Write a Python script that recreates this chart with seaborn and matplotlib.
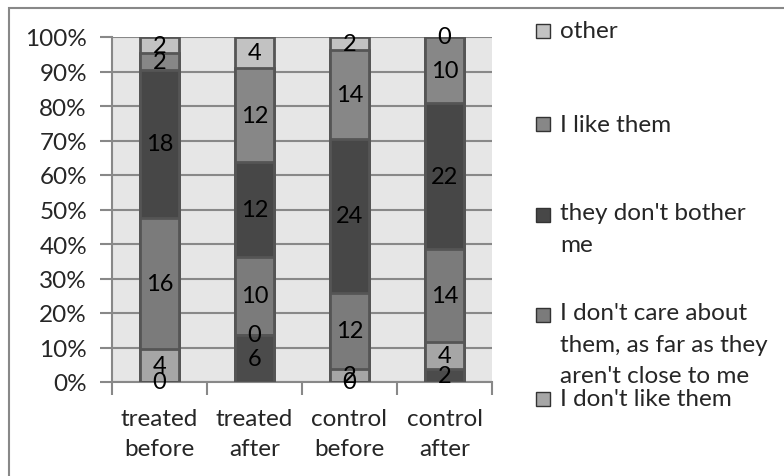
import matplotlib
matplotlib.use("Agg")
import matplotlib.pyplot as plt
import seaborn as sns
import numpy as np
import pandas as pd
from matplotlib.patches import Rectangle

# ---- data (counts) ----
categories = ["treated\nbefore", "treated\nafter", "control\nbefore", "control\nafter"]
series_order = ["unlisted", "I don't like them", "I don't care", "they don't bother me", "I like them", "other"]
unlisted = [0, 6, 0, 2]          # bottom series, its legend entry is cut off
dislike = [4, 0, 2, 4]
dont_care = [16, 10, 12, 14]
dont_bother = [18, 12, 24, 22]
like = [2, 12, 14, 10]
other = [2, 4, 2, 0]

legend_labels = {
    "other": ["other"],
    "I like them": ["I like them"],
    "they don't bother me": ["they don't bother", "me"],
    "I don't care": ["I don't care about", "them, as far as they", "aren't close to me"],
    "I don't like them": ["I don't like them"],
}

colors = {
    "unlisted": "#4b4b4b",
    "I don't like them": "#a6a6a6",
    "I don't care": "#7b7b7b",
    "they don't bother me": "#474747",
    "I like them": "#878787",
    "other": "#c2c2c2",
}

df = pd.DataFrame({
    "unlisted": unlisted,
    "I don't like them": dislike,
    "I don't care": dont_care,
    "they don't bother me": dont_bother,
    "I like them": like,
    "other": other,
}, index=categories)

pct = df.div(df.sum(axis=1), axis=0) * 100
cum = pct.cumsum(axis=1)

sns.set_theme(style="white")
plt.rcParams['font.family'] = ['Lato', 'DejaVu Sans']

W, H = 784, 477
fig = plt.figure(figsize=(W / 100, H / 100), dpi=100)
ax = fig.add_axes([112 / W, (H - 383) / H, 380 / W, 345 / H])
ax.set_facecolor('#e6e6e6')
ax.set_axisbelow(True)

edge = '#555555'
for name in reversed(series_order):
    sns.barplot(x=list(categories), y=cum[name].values, color=colors[name],
                saturation=1, width=0.41, edgecolor=edge, linewidth=2,
                ax=ax, zorder=3)

# data labels
for i, cat in enumerate(categories):
    for name in series_order:
        v = df.loc[cat, name]
        top = cum.loc[cat, name]
        y = top - pct.loc[cat, name] / 2
        ax.text(i, y, f"{v}", ha='center', va='center', fontsize=17,
                color='black', zorder=5)

ax.set_xlim(-0.5, 3.5)
ax.set_ylim(0, 100)
ax.set_yticks(np.arange(0, 101, 10))
ax.set_yticklabels([f"{v}%" for v in range(0, 101, 10)], fontsize=17.5)
ax.yaxis.grid(True, color='#888888', linewidth=1.5, zorder=0)
ax.xaxis.grid(False)
ax.tick_params(axis='y', length=9, width=1.5, color='#888888', pad=9, left=True)

ax.set_xticks(range(len(categories)))
ax.set_xticklabels(categories, fontsize=17.5, linespacing=1.5)
ax.set_xticks(np.arange(-0.5, 4, 1), minor=True)
ax.tick_params(axis='x', which='major', length=0, pad=19)
ax.tick_params(axis='x', which='minor', length=9, width=1.5, color='#888888', bottom=True)
ax.set_xlabel("")
ax.set_ylabel("")

for s in ['top', 'right']:
    ax.spines[s].set_visible(False)
for s in ['left', 'bottom']:
    ax.spines[s].set_color('#888888')
    ax.spines[s].set_linewidth(1.5)

# outer chart border
fig.patches.append(Rectangle((9 / W, -0.1), 1.2, (H - 9) / H + 0.1,
                             transform=fig.transFigure, fill=False,
                             edgecolor='#888888', linewidth=1.5))

# manual legend (last entry is cut off in the original)
marker_y = {"other": 32, "I like them": 125, "they don't bother me": 216,
            "I don't care": 316, "I don't like them": 400}
line_step = 31.5
for name, lines in legend_labels.items():
    my = marker_y[name]
    fig.patches.append(Rectangle((536 / W, (H - my - 7) / H), 14 / W, 14 / H,
                                 transform=fig.transFigure,
                                 facecolor=colors[name], edgecolor='#333333',
                                 linewidth=1))
    ty = my - 2 if len(lines) > 1 else my
    for k, line in enumerate(lines):
        fig.text(560 / W, (H - (ty + k * line_step)) / H, line, fontsize=17.5,
                 ha='left', va='center')

fig.savefig("out.png", dpi=100)
